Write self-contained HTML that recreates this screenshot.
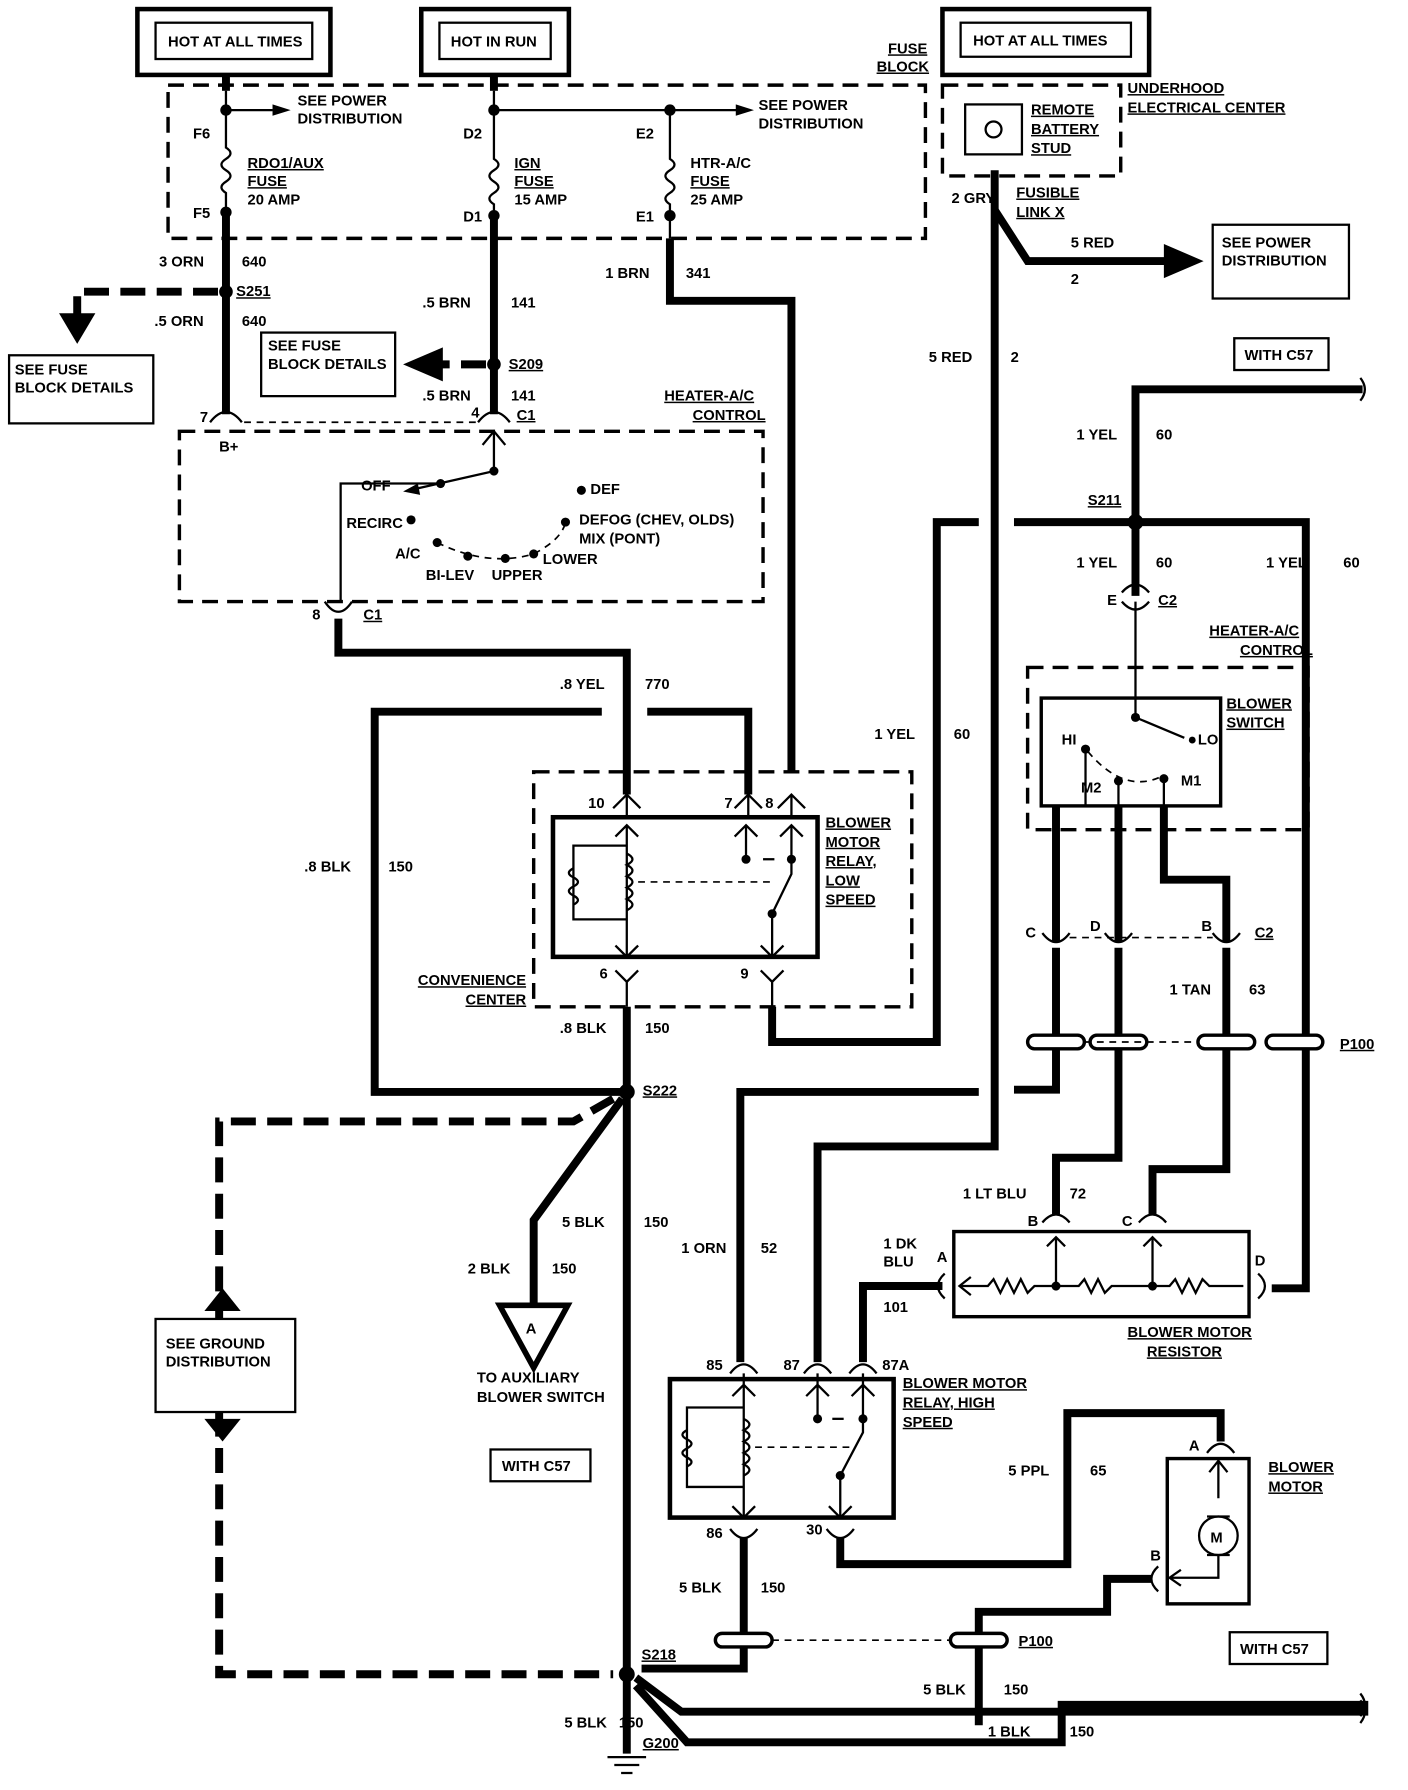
<!DOCTYPE html>
<html><head><meta charset="utf-8"><style>
html,body{margin:0;padding:0;background:#fff;}
svg{display:block}
text{font-family:"Liberation Sans",sans-serif;font-weight:bold;font-size:13px;fill:#000}
.t{stroke:#000;stroke-width:7;fill:none;stroke-linejoin:miter}
.n{stroke:#000;stroke-width:2;fill:none}
.d{stroke:#000;stroke-width:3;fill:none;stroke-dasharray:14 8}
.dt{stroke:#000;stroke-width:7;fill:none;stroke-dasharray:22 10}
.dl{stroke:#000;stroke-width:1.5;fill:none;stroke-dasharray:6 5}
.b{stroke:#000;stroke-width:2;fill:#fff}
</style></head><body>
<svg width="1408" height="1790" viewBox="0 0 1240 1577" preserveAspectRatio="none" xmlns="http://www.w3.org/2000/svg">
<!-- top boxes -->
<rect x="121" y="8" width="170" height="58" fill="none" stroke="#000" stroke-width="4"/>
<rect x="137" y="20" width="138" height="32" class="b"/>
<text x="148" y="41">HOT AT ALL TIMES</text>
<rect x="371" y="8" width="130" height="58" fill="none" stroke="#000" stroke-width="4"/>
<rect x="387" y="20" width="98" height="32" class="b"/>
<text x="397" y="41">HOT IN RUN</text>
<rect x="830" y="8" width="182" height="58" fill="none" stroke="#000" stroke-width="4"/>
<rect x="846" y="20" width="150" height="30" class="b"/>
<text x="857" y="40">HOT AT ALL TIMES</text>

<!-- fuse block -->
<rect x="148" y="75" width="667" height="135" class="d"/>
<text x="782" y="47" text-decoration="underline">FUSE</text>
<text x="772" y="63" text-decoration="underline">BLOCK</text>
<rect x="830" y="75" width="157" height="80" class="d"/>
<rect x="850" y="92" width="50" height="44" class="b" stroke-width="3"/>
<circle cx="875" cy="114" r="7" class="n" stroke-width="3"/>
<text x="908" y="101" text-decoration="underline">REMOTE</text>
<text x="908" y="118" text-decoration="underline">BATTERY</text>
<text x="908" y="135" text-decoration="underline">STUD</text>
<text x="993" y="82" text-decoration="underline">UNDERHOOD</text>
<text x="993" y="99" text-decoration="underline">ELECTRICAL CENTER</text>

<!-- left fuse F6/F5 -->
<path class="t" d="M199 66V80"/>
<path class="n" stroke-width="3" d="M199 80V130 q8 5 0 10 q-8 5 0 10 q8 5 0 10 q-8 5 0 10 V190"/>
<path class="t" d="M199 190V365"/>
<circle cx="199" cy="97" r="5"/><circle cx="199" cy="187" r="5"/>
<path class="n" d="M199 97H240"/><path d="M240 92L256 97L240 102Z"/>
<text x="262" y="93">SEE POWER</text><text x="262" y="109">DISTRIBUTION</text>
<text x="170" y="122">F6</text><text x="170" y="192">F5</text>
<text x="218" y="148" text-decoration="underline">RDO1/AUX</text>
<text x="218" y="164" text-decoration="underline">FUSE</text>
<text x="218" y="180">20 AMP</text>
<text x="140" y="235">3 ORN</text><text x="213" y="235">640</text>
<text x="136" y="287">.5 ORN</text><text x="213" y="287">640</text>
<circle cx="199" cy="257" r="6"/><text x="208" y="261" text-decoration="underline">S251</text>
<path class="dt" d="M192 257H68V285"/><path d="M52 276L68 303L84 276Z"/>
<rect x="8" y="313" width="127" height="60" class="b"/>
<text x="13" y="330">SEE FUSE</text><text x="13" y="346">BLOCK DETAILS</text>

<!-- middle fuse -->
<path class="t" d="M435 66V80"/>
<path class="n" stroke-width="3" d="M435 80V140 q8 5 0 10 q-8 5 0 10 q8 5 0 10 q-8 5 0 10 V190"/>
<path class="t" d="M435 190V365"/>
<circle cx="435" cy="97" r="5"/><circle cx="435" cy="190" r="5"/>
<path class="n" d="M435 97H650"/><path d="M648 92L664 97L648 102Z"/>
<text x="668" y="97">SEE POWER</text><text x="668" y="113">DISTRIBUTION</text>
<text x="408" y="122">D2</text><text x="408" y="195">D1</text>
<text x="453" y="148" text-decoration="underline">IGN</text>
<text x="453" y="164" text-decoration="underline">FUSE</text>
<text x="453" y="180">15 AMP</text>
<text x="372" y="271">.5 BRN</text><text x="450" y="271">141</text>
<circle cx="435" cy="321" r="6"/><text x="448" y="325" text-decoration="underline">S209</text>
<path class="dt" d="M428 321H385"/><path d="M390 306L355 321L390 336Z"/>
<rect x="230" y="293" width="118" height="56" class="b"/>
<text x="236" y="309">SEE FUSE</text><text x="236" y="325">BLOCK DETAILS</text>
<text x="372" y="353">.5 BRN</text><text x="450" y="353">141</text>

<!-- right fuse -->
<path class="n" stroke-width="3" d="M590 97V140 q8 5 0 10 q-8 5 0 10 q8 5 0 10 q-8 5 0 10 V210"/>
<circle cx="590" cy="97" r="5"/><circle cx="590" cy="190" r="5"/>
<text x="560" y="122">E2</text><text x="560" y="195">E1</text>
<text x="608" y="148">HTR-A/C</text>
<text x="608" y="164" text-decoration="underline">FUSE</text>
<text x="608" y="180">25 AMP</text>
<path class="t" d="M590 210V265H697V680"/>
<text x="533" y="245">1 BRN</text><text x="604" y="245">341</text>

<!-- heater A/C control -->
<path class="n" stroke-width="3" d="M185 372 q14 -18 28 0 M421 372 q14 -18 28 0"/>
<path class="dl" stroke-width="3" d="M215 372H420"/>
<text x="176" y="372">7</text><text x="415" y="368">4</text>
<text x="455" y="370" text-decoration="underline">C1</text>
<text x="193" y="398">B+</text>
<rect x="158" y="380" width="514" height="150" class="d"/>
<text x="585" y="353" text-decoration="underline">HEATER-A/C</text>
<text x="610" y="370" text-decoration="underline">CONTROL</text>
<path class="n" d="M435 380V415L360 432"/><path class="n" d="M425 392L435 380L445 392"/>
<circle cx="435" cy="415" r="4"/><circle cx="388" cy="426" r="4"/>
<path d="M355 433L368 426L370 436Z"/>
<text x="318" y="432">OFF</text>
<path class="n" d="M388 426H300V530"/>
<text x="305" y="465">RECIRC</text><circle cx="362" cy="458" r="4"/>
<text x="348" y="492">A/C</text><circle cx="385" cy="478" r="4"/>
<circle cx="412" cy="490" r="4"/><circle cx="445" cy="492" r="4"/><circle cx="470" cy="488" r="4"/><circle cx="498" cy="460" r="4"/><circle cx="512" cy="432" r="4"/>
<path class="dl" stroke-width="2" d="M385 478Q430 500 470 488Q495 475 498 460"/>
<text x="375" y="511">BI-LEV</text><text x="433" y="511">UPPER</text><text x="478" y="497">LOWER</text>
<text x="520" y="435">DEF</text>
<text x="510" y="462">DEFOG (CHEV, OLDS)</text><text x="510" y="479">MIX (PONT)</text>
<path class="n" stroke-width="3" d="M286 530 q12 18 24 0"/><text x="275" y="546">8</text><text x="320" y="546" text-decoration="underline">C1</text>
<path class="t" d="M298 545V575H552V700"/>

<!-- 770 & blk loop -->
<text x="493" y="607">.8 YEL</text><text x="568" y="607">770</text>
<path class="t" d="M570 627H659V700"/>
<path class="t" d="M530 627H330V962H552"/>
<text x="268" y="768">.8 BLK</text><text x="342" y="768">150</text>

<!-- convenience center / low relay -->
<rect x="470" y="680" width="333" height="207" class="d"/>
<rect x="487" y="720" width="233" height="123" fill="none" stroke="#000" stroke-width="4"/>
<path class="n" d="M552 700V720M540 712L552 700L564 712M659 700V720M647 712L659 700L671 712M697 700V720M685 712L697 700L709 712"/>
<text x="518" y="712">10</text><text x="638" y="712">7</text><text x="674" y="712">8</text>
<path class="n" d="M552 727V843M542 737L552 727L562 737M542 833L552 843L562 833"/>
<path class="n" d="M552 745H505V810H552"/>
<path class="n" d="M505 765q-8 4 0 8q8 4 0 8q-8 4 0 8q8 4 0 8" stroke-width="2"/>
<path class="n" d="M552 752q10 5 0 10q10 5 0 10q10 5 0 10q10 5 0 10q10 5 0 10" stroke-width="2"/>
<path class="dl" d="M562 777H680"/>
<path class="n" d="M657 727V757M647 737L657 727L667 737M697 727V757M687 737L697 727L707 737"/>
<circle cx="657" cy="757" r="4"/><circle cx="697" cy="757" r="4"/><path class="n" d="M672 757H682"/>
<path class="n" d="M697 757V770L680 805V843M670 833L680 843L690 833"/><circle cx="680" cy="805" r="4"/>
<path class="n" d="M542 855L552 865L562 855M552 865V887M670 855L680 865L690 855M680 865V887"/>
<text x="528" y="862">6</text><text x="652" y="862">9</text>
<text x="727" y="729" text-decoration="underline">BLOWER</text><text x="727" y="746" text-decoration="underline">MOTOR</text>
<text x="727" y="763" text-decoration="underline">RELAY,</text><text x="727" y="780" text-decoration="underline">LOW</text>
<text x="727" y="797" text-decoration="underline">SPEED</text>
<text x="368" y="868" text-decoration="underline">CONVENIENCE</text><text x="410" y="885" text-decoration="underline">CENTER</text>
<path class="t" d="M552 887V1545"/>
<text x="493" y="910">.8 BLK</text><text x="568" y="910">150</text>
<path class="t" d="M680 887V918H825V460H862"/>
<circle cx="552" cy="962" r="7"/><text x="566" y="965" text-decoration="underline">S222</text>

<!-- red wire -->
<path class="t" d="M876 150V1010H720V1200"/>
<path class="t" d="M876 185L905 230H1030"/><path d="M1025 215L1060 230L1025 245Z"/>
<text x="838" y="179">2 GRY</text>
<text x="895" y="174" text-decoration="underline">FUSIBLE</text><text x="895" y="191" text-decoration="underline">LINK X</text>
<text x="943" y="218">5 RED</text><text x="943" y="250">2</text>
<rect x="1068" y="198" width="120" height="65" class="b"/>
<text x="1076" y="218">SEE POWER</text><text x="1076" y="234">DISTRIBUTION</text>
<text x="818" y="319">5 RED</text><text x="890" y="319">2</text>

<!-- yellow 60 -->
<rect x="1087" y="298" width="83" height="28" class="b"/><text x="1096" y="317">WITH C57</text>
<path class="t" d="M1000 525V343H1200"/><path class="n" stroke-width="3" d="M1198 333q8 10 0 20"/>
<text x="948" y="387">1 YEL</text><text x="1018" y="387">60</text>
<path class="t" d="M893 460H1150V1135H1120"/>
<circle cx="1000" cy="460" r="7"/><text x="958" y="445" text-decoration="underline">S211</text>
<text x="948" y="500">1 YEL</text><text x="1018" y="500">60</text>
<text x="1115" y="500">1 YEL</text><text x="1183" y="500">60</text>
<path class="n" stroke-width="3" d="M988 522q12 -14 24 0M988 530q12 14 24 0"/>
<text x="975" y="533">E</text><text x="1020" y="533" text-decoration="underline">C2</text>
<text x="1065" y="560" text-decoration="underline">HEATER-A/C</text><text x="1092" y="577" text-decoration="underline">CONTROL</text>
<text x="770" y="651">1 YEL</text><text x="840" y="651">60</text>

<!-- blower switch -->
<rect x="905" y="588" width="247" height="143" class="d"/>
<rect x="917" y="615" width="158" height="95" fill="none" stroke="#000" stroke-width="3"/>
<path class="n" stroke-width="3" d="M1000 530V632L1043 650"/><circle cx="1000" cy="632" r="4"/>
<circle cx="956" cy="660" r="4"/><circle cx="985" cy="688" r="4"/><circle cx="1025" cy="686" r="4"/><circle cx="1050" cy="652" r="3"/>
<path class="dl" d="M958 662Q990 700 1023 684"/>
<text x="935" y="656">HI</text><text x="1055" y="656">LO</text><text x="952" y="698">M2</text><text x="1040" y="692">M1</text>
<text x="1080" y="624" text-decoration="underline">BLOWER</text><text x="1080" y="641" text-decoration="underline">SWITCH</text>
<path class="n" stroke-width="3" d="M956 660V710M985 688V710M1025 686V710"/>
<path class="t" d="M930 710V830M985 710V830M1025 710V775H1080V830"/>
<path class="n" stroke-width="3" d="M918 822q12 16 24 0M973 822q12 16 24 0M1068 822q12 16 24 0"/>
<path class="dl" d="M942 826H1068"/>
<text x="903" y="826">C</text><text x="960" y="820">D</text><text x="1058" y="820">B</text><text x="1105" y="826" text-decoration="underline">C2</text>
<path class="t" d="M930 835V960H893M985 835V1020H930V1070M1080 835V1030H1015V1070"/>
<text x="1030" y="876">1 TAN</text><text x="1100" y="876">63</text>
<g fill="#fff" stroke="#000" stroke-width="3">
<rect x="905" y="912" width="50" height="12" rx="6"/><rect x="960" y="912" width="50" height="12" rx="6"/><rect x="1055" y="912" width="50" height="12" rx="6"/><rect x="1115" y="912" width="50" height="12" rx="6"/>
</g>
<path class="dl" d="M955 918H1055"/>
<text x="1180" y="924" text-decoration="underline">P100</text>
<path class="t" d="M862 962H652V1200"/>
<text x="848" y="1056">1 LT BLU</text><text x="942" y="1056">72</text>
<text x="600" y="1104">1 ORN</text><text x="670" y="1104">52</text>

<!-- resistor -->
<path class="n" stroke-width="3" d="M918 1077q12 -14 24 0M1003 1077q12 -14 24 0"/>
<text x="905" y="1080">B</text><text x="988" y="1080">C</text>
<rect x="840" y="1085" width="260" height="75" fill="none" stroke="#000" stroke-width="3"/>
<path class="n" d="M845 1133H870l5 -6l6 12l6 -12l6 12l6 -12l6 12l6 -6H950l5 -6l6 12l6 -12l6 12l6 -6H1030l5 -6l6 12l6 -12l6 12l6 -12l6 6H1095"/>
<path class="n" d="M855 1125L845 1133L855 1141"/>
<path class="n" d="M930 1133V1090M922 1098L930 1090L938 1098M1015 1133V1090M1007 1098L1015 1090L1023 1098"/>
<circle cx="930" cy="1133" r="4"/><circle cx="1015" cy="1133" r="4"/>
<path class="n" stroke-width="3" d="M832 1122q-12 11 0 22M1108 1122q12 11 0 22"/>
<text x="825" y="1112">A</text><text x="1105" y="1115">D</text>
<text x="993" y="1178" text-decoration="underline">BLOWER MOTOR</text><text x="1010" y="1195" text-decoration="underline">RESISTOR</text>
<path class="t" d="M830 1133H760V1200"/>
<text x="778" y="1100">1 DK</text><text x="778" y="1116">BLU</text><text x="778" y="1156">101</text>

<!-- high relay -->
<path class="n" stroke-width="3" d="M643 1210q12 -16 24 0M708 1210q12 -16 24 0M748 1210q12 -16 24 0"/>
<text x="622" y="1207">85</text><text x="690" y="1207">87</text><text x="777" y="1207">87A</text>
<rect x="590" y="1215" width="197" height="122" fill="none" stroke="#000" stroke-width="4"/>
<path class="n" d="M655 1210V1337M645 1230L655 1220L665 1230M645 1327L655 1337L665 1327"/>
<path class="n" d="M655 1240H605V1310H655"/>
<path class="n" d="M605 1260q-8 4 0 8q8 4 0 8q-8 4 0 8q8 4 0 8"/>
<path class="n" d="M655 1250q10 5 0 10q10 5 0 10q10 5 0 10q10 5 0 10q10 5 0 10"/>
<path class="dl" d="M665 1275H748"/>
<path class="n" d="M720 1210V1250M710 1230L720 1220L730 1230M760 1210V1250M750 1230L760 1220L770 1230"/>
<circle cx="720" cy="1250" r="4"/><circle cx="760" cy="1250" r="4"/><path class="n" d="M733 1250H743"/>
<path class="n" d="M760 1250V1262L740 1300V1337M730 1327L740 1337L750 1327"/><circle cx="740" cy="1300" r="4"/>
<text x="795" y="1223" text-decoration="underline">BLOWER MOTOR</text><text x="795" y="1240" text-decoration="underline">RELAY, HIGH</text>
<text x="795" y="1257" text-decoration="underline">SPEED</text>
<path class="n" stroke-width="3" d="M643 1347q12 16 24 0M728 1347q12 16 24 0"/>
<text x="622" y="1355">86</text><text x="710" y="1352">30</text>
<path class="t" d="M740 1355V1378H940V1245H1075V1270"/>
<text x="888" y="1300">5 PPL</text><text x="960" y="1300">65</text>
<path class="n" stroke-width="3" d="M1063 1280q12 -16 24 0"/><text x="1047" y="1278">A</text>
<rect x="1028" y="1285" width="72" height="128" fill="none" stroke="#000" stroke-width="3"/>
<path class="n" d="M1073 1285V1320M1065 1297L1073 1287L1081 1297M1073 1370V1390H1030M1040 1383L1030 1390L1040 1397"/>
<circle cx="1073" cy="1353" r="17" class="n"/><text x="1066" y="1359">M</text>
<path class="n" stroke-width="3" d="M1063 1336h20M1063 1370h20"/>
<text x="1117" y="1297" text-decoration="underline">BLOWER</text><text x="1117" y="1314" text-decoration="underline">MOTOR</text>
<path class="n" stroke-width="3" d="M1020 1380q-12 11 0 22"/><text x="1013" y="1375">B</text>
<path class="t" d="M1015 1391H975V1420H862V1520"/>
<path class="t" d="M655 1355V1470H565"/>
<g fill="#fff" stroke="#000" stroke-width="3"><rect x="630" y="1439" width="50" height="12" rx="6"/><rect x="837" y="1439" width="50" height="12" rx="6"/></g>
<path class="dl" d="M680 1445H837"/>
<text x="897" y="1450" text-decoration="underline">P100</text>
<text x="598" y="1403">5 BLK</text><text x="670" y="1403">150</text>
<rect x="1083" y="1438" width="86" height="28" class="b"/><text x="1092" y="1457">WITH C57</text>
<text x="813" y="1493">5 BLK</text><text x="884" y="1493">150</text>
<text x="870" y="1530">1 BLK</text><text x="942" y="1530">150</text>
<path class="t" d="M560 1478L600 1508H1205M560 1485L605 1535H935V1502H1205"/>
<path class="n" stroke-width="3" d="M1198 1498q8 10 0 20M1198 1492q8 10 0 20"/>
<circle cx="552" cy="1475" r="7"/><text x="565" y="1462" text-decoration="underline">S218</text>
<text x="497" y="1522">5 BLK</text><text x="545" y="1522">150</text>
<text x="566" y="1540" text-decoration="underline">G200</text>
<path class="n" stroke-width="3" d="M535 1548h34M541 1555h22M547 1562h10"/>

<!-- ground dashed & aux -->
<path class="dt" d="M540 968L505 988H193V1475H540"/>
<path d="M180 1155L196 1135L212 1155Z"/><path d="M180 1250L196 1270L212 1250Z"/>
<rect x="137" y="1162" width="123" height="82" class="b"/>
<text x="146" y="1188">SEE GROUND</text><text x="146" y="1204">DISTRIBUTION</text>
<path class="t" d="M548 968L470 1075V1150"/>
<path d="M440 1150L470 1205L500 1150Z" fill="none" stroke="#000" stroke-width="5"/>
<text x="463" y="1175" font-size="16">A</text>
<text x="495" y="1081">5 BLK</text><text x="567" y="1081">150</text>
<text x="412" y="1122">2 BLK</text><text x="486" y="1122">150</text>
<text x="420" y="1218">TO AUXILIARY</text><text x="420" y="1235">BLOWER SWITCH</text>
<rect x="432" y="1277" width="88" height="28" class="b"/><text x="442" y="1296">WITH C57</text>
</svg>
</body></html>
